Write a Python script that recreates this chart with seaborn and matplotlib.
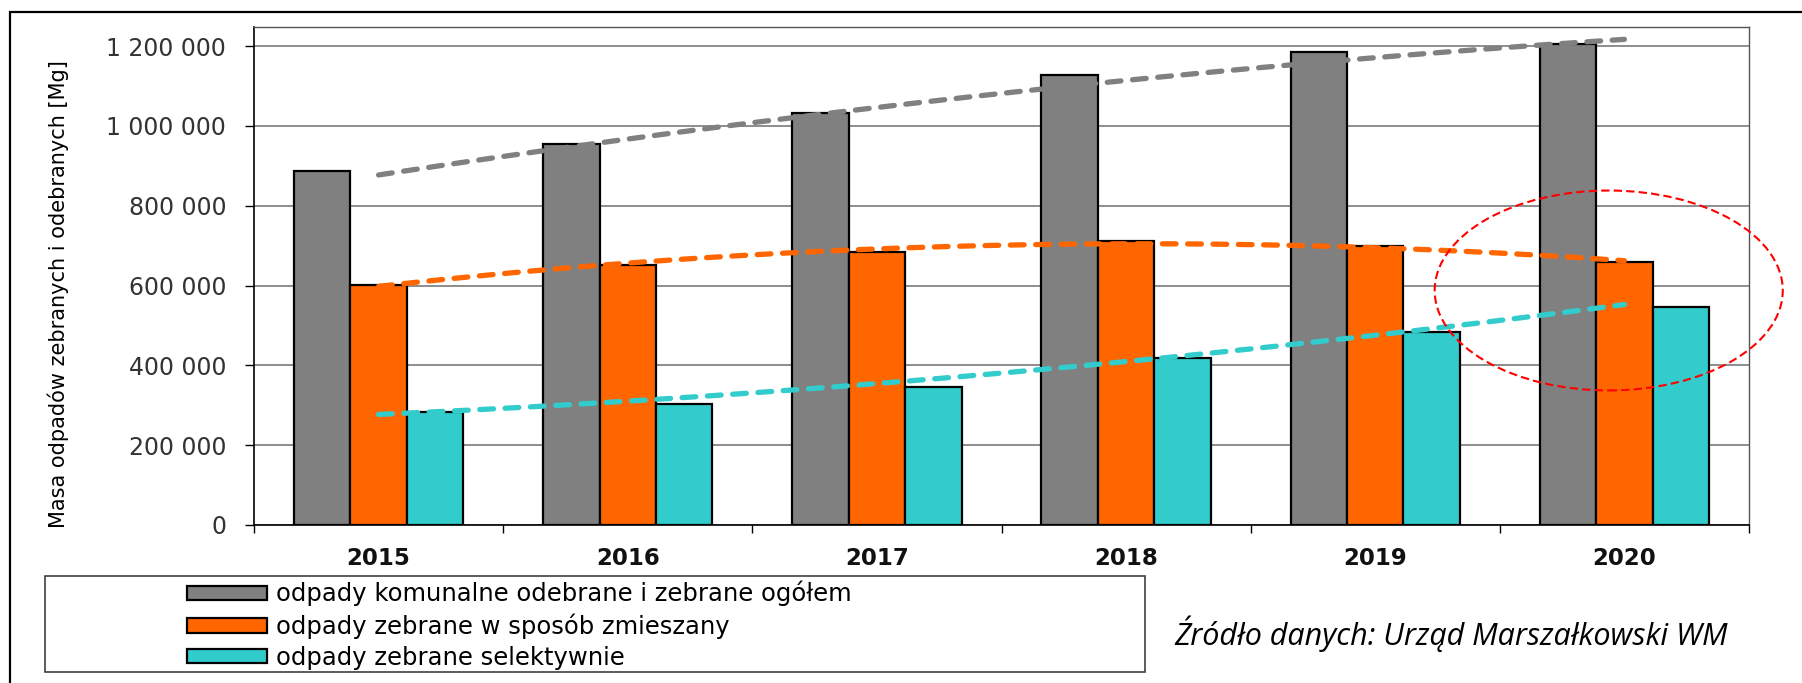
import numpy as np
import pandas as pd
import seaborn as sns
import matplotlib.pyplot as plt
from matplotlib import font_manager
from matplotlib.patches import Ellipse, Rectangle, Patch
from matplotlib.ticker import FuncFormatter, MultipleLocator, FixedLocator

# data
years = ["2015", "2016", "2017", "2018", "2019", "2020"]
total = [888000, 954000, 1032000, 1128000, 1185000, 1206000]
mixed = [602000, 652000, 685000, 711000, 700000, 658000]
selective = [283000, 304000, 345000, 418000, 484000, 546000]
series_names = [
    "odpady komunalne odebrane i zebrane ogółem",
    "odpady zebrane w sposób zmieszany",
    "odpady zebrane selektywnie",
]
colors = ["#808080", "#FF6600", "#33CCCC"]
ylabel = "Masa odpadów zebranych i odebranych [Mg]"
source = "Źródło danych: Urząd Marszałkowski WM"

W, H = 1802, 683
plt.rcParams["font.family"] = ["DejaVu Sans"]
installed = {f.name for f in font_manager.fontManager.ttflist}
narrow = "Liberation Sans Narrow" if "Liberation Sans Narrow" in installed else "DejaVu Sans"

df = pd.DataFrame({
    "rok": years * 3,
    "masa": total + mixed + selective,
    "seria": [n for n in series_names for _ in years],
})

fig = plt.figure(figsize=(W / 100, H / 100), dpi=100)
ax = fig.add_axes([254 / W, 1 - 525 / H, (1749 - 254) / W, (525 - 27) / H])

sns.barplot(data=df, x="rok", y="masa", hue="seria", hue_order=series_names,
            palette=colors, saturation=1, width=0.68, edgecolor="black",
            linewidth=1.6, legend=False, ax=ax, zorder=3)

# polynomial trend lines (order 2), like the Excel ones
xpos = np.arange(len(years))
for vals, c in zip([total, mixed, selective], colors):
    sns.regplot(x=xpos, y=np.array(vals, dtype=float), order=2, ci=None,
                scatter=False, truncate=True, ax=ax,
                line_kws=dict(color=c, linewidth=3.8, dashes=(2.6, 2.2),
                              dash_capstyle="round", zorder=5))

ax.set_xlim(-0.5, 5.5)
ax.set_ylim(0, 1.248e6)

# y axis
ax.yaxis.set_major_locator(MultipleLocator(200000))
ax.yaxis.set_major_formatter(FuncFormatter(lambda v, p: f"{int(round(v)):,}".replace(",", " ")))
ax.tick_params(axis="y", direction="out", length=6.5, width=1.0, color="black",
               pad=13.5, labelsize=17, labelcolor="#333333", left=True)
ax.yaxis.grid(True, color="#6f6f6f", linewidth=1.1)
ax.set_axisbelow(True)

# x axis: labels at centres, tick marks between categories
ax.set_xticks(xpos)
ax.set_xticklabels(years, fontweight="bold", fontsize=16.5, color="#111111")
ax.tick_params(axis="x", which="major", length=0, pad=16)
ax.xaxis.set_minor_locator(FixedLocator(np.arange(-0.5, 6, 1)))
ax.tick_params(axis="x", which="minor", direction="out", length=6, width=1.0,
               color="black", bottom=True)
ax.set_xlabel("")

ax.set_ylabel(ylabel, fontsize=15, family=[narrow, "DejaVu Sans"], color="black")
ax.yaxis.set_label_coords(-0.124, 0.463)

for s in ["left", "bottom"]:
    ax.spines[s].set_color("black")
    ax.spines[s].set_linewidth(1.2)
for s in ["top", "right"]:
    ax.spines[s].set_color("#555555")
    ax.spines[s].set_linewidth(1.0)

# red dashed ellipse around 2020
ax.add_patch(Ellipse((4.937, 587700), 1.397, 501000, fill=False, edgecolor="red",
                     linewidth=1.5, linestyle=(0, (4, 2)), clip_on=False, zorder=6))

# legend with its own frame
fig.patches.append(Rectangle((45 / W, 1 - 672 / H), 1100 / W, 96 / H, fill=False,
                             edgecolor="#404040", linewidth=1.2,
                             transform=fig.transFigure, figure=fig))
handles = [Patch(facecolor=c, edgecolor="black", linewidth=1.6) for c in colors]
fig.legend(handles, series_names, loc="upper left", bbox_to_anchor=(187 / W, 1 - 581 / H),
           frameon=False, fontsize=17.5, handlelength=3.3, handleheight=0.55,
           handletextpad=0.37, labelspacing=0.28, borderpad=0, borderaxespad=0)

# outer chart frame
fig.patches.append(Rectangle((10 / W, -0.1), 1.2, 1.1 - 12 / H, fill=False,
                             edgecolor="black", linewidth=1.6,
                             transform=fig.transFigure, figure=fig))

fig.text(1174 / W, 1 - 634 / H, source, ha="left", va="center", fontsize=22,
         style="italic", family=["Open Sans", "DejaVu Sans"])

fig.savefig("out.png", dpi=100)
